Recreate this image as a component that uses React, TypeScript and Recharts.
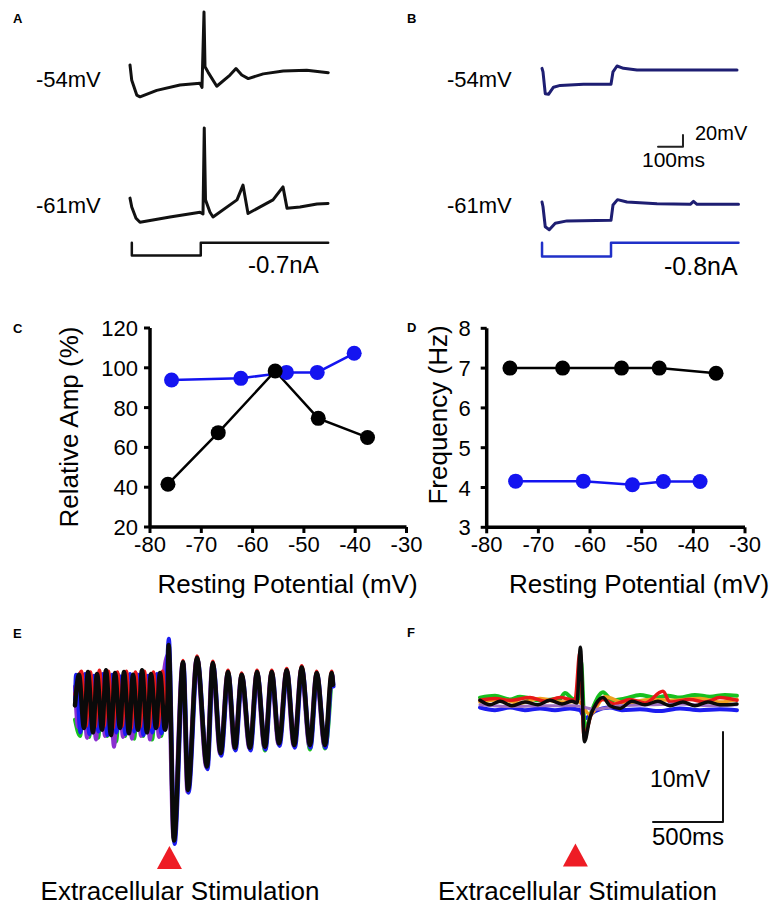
import React from "react";
import { LineChart, ComposedChart, Line, Scatter, XAxis, YAxis } from "recharts";

const FONT = '"Liberation Sans", Arial, Helvetica, sans-serif';

type Pt = [number, number];
const pts = (arr: Pt[]) => arr.map(([t, v]) => ({ t, v }));

// C / D: resting potential (mV) vs relative amplitude / frequency
const restingTicks = [-80, -70, -60, -50, -40, -30];
const ampTicks = [20, 40, 60, 80, 100, 120];
const freqTicks = [3, 4, 5, 6, 7, 8];

const ampBlack: Pt[] = [[-76.5, 41.5], [-66.7, 67.4], [-55.6, 98.4], [-47.2, 74.6], [-37.6, 65]];
const ampBlue: Pt[] = [[-75.8, 93.9], [-62.3, 94.7], [-53.4, 97.7], [-47.4, 97.7], [-40.2, 107.3]];
const freqBlack: Pt[] = [[-75.5, 7.0], [-65.3, 7.0], [-53.9, 7.0], [-46.6, 7.0], [-35.6, 6.87]];
const freqBlue: Pt[] = [[-74.4, 4.16], [-61.3, 4.16], [-51.8, 4.07], [-45.8, 4.15], [-38.7, 4.15]];

// A: traces (ms, mV) and current step (ms, nA)
const aRest54: Pt[] = [[0, -42], [7, -68], [27, -93], [40, -96], [107, -85], [200, -76], [280, -73], [288, -80], [296, 48], [300, -45], [312, -54], [347, -78], [400, -59], [424, -48], [447, -59], [473, -65], [533, -57], [613, -52], [707, -51], [793, -55]];
const aRest61: Pt[] = [[0, -49], [7, -64], [24, -83], [40, -90], [160, -81], [280, -73], [292, -76], [297, 70], [302, -52], [320, -73], [332, -81], [428, -52], [452, -27], [472, -75], [572, -52], [612, -30], [628, -66], [680, -64], [748, -59], [792, -58]];
const aStep: Pt[] = [[7, 0], [7, -0.7], [283, -0.7], [283, 0], [793, 0]];

// B
const bRest54: Pt[] = [[0, -51], [4, -57], [13, -94], [26, -95], [46, -83], [73, -80], [166, -78], [276, -78], [284, -57], [300, -47], [326, -51], [380, -54], [593, -54], [780, -54]];
const bRest61: Pt[] = [[0, -59], [4, -67], [13, -101], [29, -106], [53, -95], [100, -91], [276, -90], [284, -64], [302, -55], [340, -59], [460, -62], [593, -63], [606, -58], [620, -63], [786, -63]];
const bStep: Pt[] = [[0, 0], [0, -0.8], [276, -0.8], [276, 0], [786, 0]];
const bScale: Pt[] = [[0, 0], [100, 0], [100, 20]];

// E: overlaid sweeps (ms, mV)
const eBlack: Pt[] = [[0, -0.6], [28, 2.8], [63, -3.1], [91, 3.1], [126, -3.6], [154, 2.9], [189, -3.3], [217, 3.3], [252, -3.9], [280, 3.0], [315, -3.1], [343, 3.1], [378, -3.7], [406, 2.8], [441, -3.3], [469, 3.3], [504, -3.6], [532, 2.9], [567, -3.1], [595, 3.0], [630, -3.3], [648, 0], [655, 6.1], [693, -15.6], [756, 4.2], [791, -10], [854, 4.7], [924, -7.4], [964, 4.1], [1020, -5.9], [1071, 3.1], [1120, -5.3], [1167, 2.8], [1225, -5.3], [1274, 3.1], [1330, -5.2], [1377, 3.1], [1428, -4.8], [1482, 3.3], [1535, -5.0], [1587, 3.6], [1645, -5.0], [1692, 3.0], [1750, -5.0], [1797, 3.0], [1806, 1.7]];
const eRed: Pt[] = [[0, 0.6], [45, 3.2], [77, -2.9], [108, 3.1], [140, -3.0], [171, 3.3], [203, -2.9], [234, 3.2], [266, -3.1], [297, 3.1], [329, -2.9], [360, 3.2], [392, -3.2], [423, 3.1], [455, -3.0], [486, 3.2], [518, -3.1], [549, 3.1], [581, -2.9], [612, 3.2], [641, -2.6], [655, 5.6], [693, -15.4], [756, 4.4], [791, -9.8], [854, 4.9], [924, -7.2], [964, 4.3], [1020, -5.7], [1071, 3.3], [1120, -5.1], [1167, 3.0], [1225, -5.1], [1274, 3.3], [1330, -5.0], [1377, 3.3], [1428, -4.6], [1482, 3.5], [1535, -4.8], [1587, 3.8], [1645, -4.8], [1692, 3.2], [1750, -4.8], [1797, 3.2], [1806, 1.9]];
const eBlue: Pt[] = [[0, 0], [7, 2.8], [38, -3.6], [70, 2.9], [101, -3.8], [133, 2.7], [164, -3.5], [196, 2.9], [227, -3.9], [259, 2.8], [290, -3.6], [322, 2.6], [353, -3.8], [385, 2.9], [416, -3.5], [448, 2.8], [479, -3.9], [511, 2.7], [542, -3.6], [574, 2.9], [605, -3.7], [637, 1.5], [657, 6.8], [697, -16.0], [760, 4.0], [795, -10.3], [858, 4.5], [928, -7.7], [968, 3.9], [1024, -6.2], [1075, 2.9], [1124, -5.6], [1171, 2.6], [1229, -5.6], [1278, 2.9], [1334, -5.5], [1381, 2.9], [1432, -5.1], [1486, 3.1], [1539, -5.3], [1591, 3.4], [1649, -5.3], [1696, 2.8], [1754, -5.3], [1801, 2.8], [1810, 1.5]];
const eGreen: Pt[] = [[0, -2.2], [36, -4.0], [68, 2.4], [99, -4.1], [131, 2.2], [162, -4.2], [194, 2.5], [225, -4.0], [257, 2.3], [288, -4.6], [320, 2.2], [351, -4.0], [383, 2.4], [414, -4.3], [446, 2.2], [477, -4.0], [509, 2.5], [540, -4.4], [572, 2.3], [603, -4.0], [635, 1.8], [652, 4.5], [693, -15.0], [756, 4.0], [791, -9.6], [854, 4.4], [924, -7.0], [964, 3.8], [1020, -6.0], [1071, 2.9], [1120, -5.5], [1167, 2.6], [1225, -5.4], [1274, 2.9], [1330, -5.6], [1377, 2.8], [1428, -5.0], [1482, 3.1], [1535, -5.1], [1587, 3.3], [1645, -5.5], [1692, 2.8], [1750, -5.4], [1797, 2.8]];
const ePurple: Pt[] = [[0, 1.5], [21, -3.0], [52, 2.8], [84, -4.2], [115, 2.6], [147, -4.4], [178, 2.9], [210, -4.0], [241, 2.7], [273, -5.2], [304, 2.8], [336, -4.1], [367, 2.6], [399, -4.3], [430, 2.9], [462, -4.0], [493, 2.7], [525, -4.4], [556, 2.8], [588, -4.1], [619, 2.6], [650, 5.0], [689, -15.3], [752, 4.0], [787, -10.2], [850, 4.5], [920, -7.5], [960, 3.9], [1016, -6.0], [1067, 2.9], [1116, -5.4], [1163, 2.6], [1221, -5.4], [1270, 2.9], [1326, -5.3], [1373, 2.9], [1424, -4.9], [1478, 3.1], [1531, -5.1], [1583, 3.4], [1641, -5.1], [1688, 2.8], [1746, -5.1], [1793, 2.8]];
const eStim = [{ t: 661, v: -17.5 }];

// F
const fBlack: Pt[] = [[0, 0.3], [70, -0.2], [140, 0.2], [224, -0.3], [315, 0.1], [406, -0.2], [490, 0.3], [574, -0.1], [644, 0.2], [679, 0], [703, 6.2], [731, -4.3], [770, -1.6], [812, -0.1], [861, 0.6], [910, -0.3], [980, -0.6], [1064, 0.2], [1155, -0.2], [1246, 0.2], [1330, -0.3], [1421, 0.1], [1505, -0.3], [1596, 0.1], [1680, -0.2], [1799, -0.1]];
const fGreen: Pt[] = [[0, 0.6], [105, 0.8], [210, 0.4], [280, 0.7], [420, 0.3], [560, 0.5], [595, 1.1], [644, 0.5], [686, 0.3], [707, 4.6], [735, -3.0], [784, -0.8], [861, 1.2], [924, 0.3], [1015, 0.5], [1120, 0.9], [1225, 0.6], [1316, 0.8], [1400, 0.6], [1505, 0.9], [1610, 0.7], [1715, 0.9], [1799, 0.8]];
const fRed: Pt[] = [[0, 0.3], [105, 0.5], [210, 0.3], [350, 0.6], [455, 0.2], [560, 0.6], [665, 0.3], [700, 5.7], [728, -3.6], [784, -1.0], [861, 0.4], [945, -0.1], [1050, 0.4], [1155, 0], [1281, 1.3], [1330, 0.1], [1470, 0.4], [1575, 0.1], [1680, 0.6], [1799, 0.3]];
const fBlue: Pt[] = [[0, -0.5], [105, -0.8], [210, -0.5], [315, -0.8], [420, -0.6], [525, -0.8], [630, -0.6], [700, -0.8], [735, -1.7], [805, -0.9], [910, -0.5], [994, -0.8], [1120, -0.7], [1260, -0.9], [1400, -0.6], [1540, -0.8], [1680, -0.7], [1799, -0.8]];
const fOrange: Pt[] = [[0, 0.1], [140, 0.4], [280, 0], [420, 0.5], [560, 0.1], [686, 0.2], [770, -1.3], [875, 0.7], [1015, 0], [1190, 0.4], [1330, 0.3], [1540, 0.5], [1680, 0.1], [1799, 0.4]];
const fPurple: Pt[] = [[0, -0.2], [210, -0.4], [420, -0.3], [665, -0.3], [805, -0.7], [980, -0.3], [1190, -0.2], [1400, -0.1], [1610, -0.3], [1799, -0.2]];
const fStim = [{ t: 668, v: -16.9 }];
const fScale: Pt[] = [[0, 0], [500, 0], [500, 10]];

const BLUE = "#1414f0";
const NAVY = "#1e1e72";

type Series = { data: Pt[]; color: string; width: number; curve?: "linear" | "monotone" };

const Triangle = (p: any) => (
  <polygon
    points={`${p.cx},${p.cy - 11.5} ${p.cx - 12.5},${p.cy + 11.5} ${p.cx + 12.5},${p.cy + 11.5}`}
    fill="#ee1c25"
  />
);

function Trace({
  left, top, width, height, xDomain, yDomain, series, stim,
}: {
  left: number; top: number; width: number; height: number;
  xDomain: [number, number]; yDomain: [number, number];
  series: Series[]; stim?: { t: number; v: number }[];
}) {
  return (
    <div style={{ position: "absolute", left, top }}>
      <ComposedChart width={width} height={height} margin={{ top: 0, right: 0, bottom: 0, left: 0 }}>
        <XAxis type="number" dataKey="t" domain={xDomain} hide />
        <YAxis type="number" domain={yDomain} hide />
        {series.map((s, i) => (
          <Line
            key={i}
            data={pts(s.data)}
            dataKey="v"
            type={s.curve ?? "linear"}
            stroke={s.color}
            strokeWidth={s.width}
            strokeLinejoin="round"
            strokeLinecap="round"
            dot={false}
            activeDot={false}
            isAnimationActive={false}
          />
        ))}
        {stim ? <Scatter data={stim} dataKey="v" shape={Triangle} isAnimationActive={false} /> : null}
      </ComposedChart>
    </div>
  );
}

const XTick = ({ x, y, payload }: any) => (
  <text x={x} y={y + 16} textAnchor="middle" fontSize={22} fontFamily={FONT} fill="#000">
    {payload.value}
  </text>
);
const YTick = ({ x, y, payload }: any) => (
  <text x={x} y={y + 8} textAnchor="end" fontSize={22} fontFamily={FONT} fill="#000">
    {payload.value}
  </text>
);

const axisProps = {
  stroke: "#000",
  strokeWidth: 3.5,
  axisLine: { stroke: "#000", strokeWidth: 3.5 },
  tickLine: { stroke: "#000", strokeWidth: 3 },
  tickSize: 6,
  interval: 0 as const,
};

function Scatterplot({
  left, width, margin, yWidth, yDomain, yTicks, yGap, black, blue,
}: {
  left: number; width: number; margin: any; yWidth: number; yGap: number;
  yDomain: [number, number]; yTicks: number[]; black: Pt[]; blue: Pt[];
}) {
  return (
    <div style={{ position: "absolute", left, top: 300 }}>
      <LineChart width={width} height={280} margin={margin}>
        <XAxis
          type="number"
          dataKey="t"
          domain={[-80, -30]}
          ticks={restingTicks}
          height={40}
          tickMargin={3}
          tick={<XTick />}
          {...axisProps}
        />
        <YAxis type="number" domain={yDomain} ticks={yTicks} width={yWidth} tickMargin={yGap} tick={<YTick />} {...axisProps} />
        <Line data={pts(blue)} dataKey="v" stroke={BLUE} strokeWidth={2.5} dot={{ r: 7.5, fill: BLUE, stroke: BLUE, strokeWidth: 0 }} activeDot={false} isAnimationActive={false} />
        <Line data={pts(black)} dataKey="v" stroke="#000" strokeWidth={2.5} dot={{ r: 7.5, fill: "#000", stroke: "#000", strokeWidth: 0 }} activeDot={false} isAnimationActive={false} />
      </LineChart>
    </div>
  );
}

export default function App() {
  const t = (x: number, y: number, s: string, size: number, extra: any = {}) => (
    <text x={x} y={y} fontSize={size} fontFamily={FONT} fill="#000" {...extra}>{s}</text>
  );
  return (
    <div style={{ position: "absolute", left: 0, top: 0, width: 778, height: 906, overflow: "hidden", background: "#fff" }}>
      <style>{".recharts-surface{overflow:visible}"}</style>

      {/* A */}
      <Trace left={130} top={-1} width={200} height={112} xDomain={[0, 800]} yDomain={[-120, 70]} series={[{ data: aRest54, color: "#111", width: 3 }]} />
      <Trace left={130} top={122} width={200} height={118} xDomain={[0, 800]} yDomain={[-120, 80]} series={[{ data: aRest61, color: "#111", width: 3 }]} />
      <Trace left={130} top={241.2} width={200} height={16.2} xDomain={[0, 800]} yDomain={[-0.8, 0.1]} series={[{ data: aStep, color: "#111", width: 2.5 }]} />

      {/* B */}
      <Trace left={541.7} top={-3} width={200} height={112} xDomain={[0, 800]} yDomain={[-120, 70]} series={[{ data: bRest54, color: NAVY, width: 3 }]} />
      <Trace left={541.7} top={120} width={200} height={118} xDomain={[0, 800]} yDomain={[-120, 80]} series={[{ data: bRest61, color: NAVY, width: 3 }]} />
      <Trace left={541.7} top={240.6} width={200} height={17.1} xDomain={[0, 800]} yDomain={[-0.9, 0.1]} series={[{ data: bStep, color: "#2030c8", width: 2.5 }]} />
      <Trace left={658.3} top={135} width={25} height={11.7} xDomain={[0, 100]} yDomain={[0, 20]} series={[{ data: bScale, color: "#222", width: 2 }]} />

      {/* C, D */}
      <Scatterplot left={0} width={440} margin={{ top: 28, right: 33.5, bottom: 13, left: 90 }} yWidth={60} yGap={6} yDomain={[20, 120]} yTicks={ampTicks} black={ampBlack} blue={ampBlue} />
      <Scatterplot left={390} width={380} margin={{ top: 28.3, right: 25, bottom: 12.7, left: 40 }} yWidth={56.7} yGap={10} yDomain={[3, 8]} yTicks={freqTicks} black={freqBlack} blue={freqBlue} />

      {/* E */}
      <Trace
        left={75} top={637} width={264.3} height={243} xDomain={[0, 1850]} yDomain={[-20, 7]}
        series={[
          { data: eGreen, color: "#18c020", width: 4, curve: "monotone" },
          { data: ePurple, color: "#8a30d0", width: 4, curve: "monotone" },
          { data: eBlue, color: "#1c1cf0", width: 4, curve: "monotone" },
          { data: eRed, color: "#e81818", width: 3.5, curve: "monotone" },
          { data: eBlack, color: "#0a0a0a", width: 4.5, curve: "monotone" },
        ]}
        stim={eStim}
      />

      {/* F */}
      <Trace
        left={480} top={640} width={257.1} height={225} xDomain={[0, 1800]} yDomain={[-18, 7]}
        series={[
          { data: fBlue, color: "#1c1cf0", width: 4, curve: "monotone" },
          { data: fGreen, color: "#18c020", width: 4, curve: "monotone" },
          { data: fOrange, color: "#f0a020", width: 3.5, curve: "monotone" },
          { data: fRed, color: "#e81818", width: 3.5, curve: "monotone" },
          { data: fPurple, color: "#a070c0", width: 3, curve: "monotone" },
          { data: fBlack, color: "#0a0a0a", width: 3.5, curve: "monotone" },
        ]}
        stim={fStim}
      />
      <Trace left={653} top={732} width={70} height={90} xDomain={[0, 500]} yDomain={[0, 10]} series={[{ data: fScale, color: "#111", width: 2 }]} />

      <svg width={778} height={906} style={{ position: "absolute", left: 0, top: 0, pointerEvents: "none" }}>
        {t(13, 23, "A", 13, { fontWeight: "bold" })}
        {t(407, 23, "B", 13, { fontWeight: "bold" })}
        {t(13, 333, "C", 13, { fontWeight: "bold" })}
        {t(407, 332, "D", 13, { fontWeight: "bold" })}
        {t(13, 638, "E", 13, { fontWeight: "bold" })}
        {t(407, 637, "F", 13, { fontWeight: "bold" })}

        {t(36, 87, "-54mV", 22)}
        {t(36, 213, "-61mV", 22)}
        {t(248, 273, "-0.7nA", 24)}
        {t(447, 87, "-54mV", 22)}
        {t(447, 213, "-61mV", 22)}
        {t(695, 140, "20mV", 20)}
        {t(642, 167, "100ms", 21)}
        {t(664, 275, "-0.8nA", 25)}

        <text transform="translate(78,427) rotate(-90)" textAnchor="middle" fontSize={26} fontFamily={FONT} fill="#000">Relative Amp (%)</text>
        <text transform="translate(447,415) rotate(-90)" textAnchor="middle" fontSize={26} fontFamily={FONT} fill="#000">Frequency (Hz)</text>
        {t(287.5, 593, "Resting Potential (mV)", 26, { textAnchor: "middle" })}
        {t(639, 593, "Resting Potential (mV)", 26, { textAnchor: "middle" })}

        {t(650, 787, "10mV", 23)}
        {t(652, 845, "500ms", 24)}
        {t(180, 900, "Extracellular Stimulation", 26, { textAnchor: "middle" })}
        {t(577.5, 900, "Extracellular Stimulation", 26, { textAnchor: "middle" })}
      </svg>
    </div>
  );
}
